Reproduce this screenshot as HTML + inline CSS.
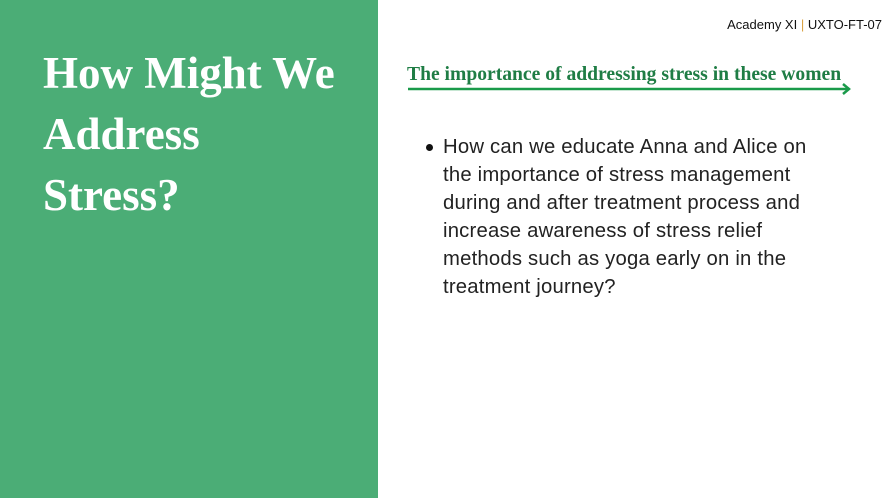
<!DOCTYPE html>
<html><head><meta charset="utf-8"><style>
body{margin:0;width:895px;height:498px;position:relative;background:#fff;overflow:hidden;font-family:"Liberation Sans",sans-serif}
#panel{position:absolute;left:0;top:0;width:378px;height:498px;background:#4bad76}
#title{position:absolute;left:43px;top:43px;margin:0;color:#fff;font-family:"Liberation Serif",serif;font-weight:bold;font-size:45px;line-height:61px}
#hdr{position:absolute;right:13px;top:17px;font-size:13px;color:#111}
#hdr span{color:#d9a040}
#sub{position:absolute;left:407px;top:64px;font-family:"Liberation Serif",serif;font-weight:bold;font-size:19.6px;color:#1f7d45;white-space:nowrap}
#arrow{position:absolute;left:405px;top:82px}
#body{position:absolute;left:443px;top:133px;width:420px;font-size:20.3px;letter-spacing:0.2px;line-height:28px;color:#222}
#dot{position:absolute;left:426px;top:144px;width:7px;height:7px;border-radius:50%;background:#111}
</style></head><body>
<div id="panel"></div>
<h1 id="title">How Might We<br>Address<br>Stress?</h1>
<div id="hdr">Academy XI <span>|</span> UXTO-FT-07</div>
<div id="sub">The importance of addressing stress in these women</div>
<svg id="arrow" width="450" height="14"><line x1="3" y1="7" x2="444" y2="7" stroke="#1a9a4a" stroke-width="2.5"/><polyline points="438,2 444,7 438,12" fill="none" stroke="#1a9a4a" stroke-width="2.5"/></svg>
<div id="dot"></div>
<div id="body">How can we educate Anna and Alice on<br>the importance of stress management<br>during and after treatment process and<br>increase awareness of stress relief<br>methods such as yoga early on in the<br>treatment journey?</div>
</body></html>
